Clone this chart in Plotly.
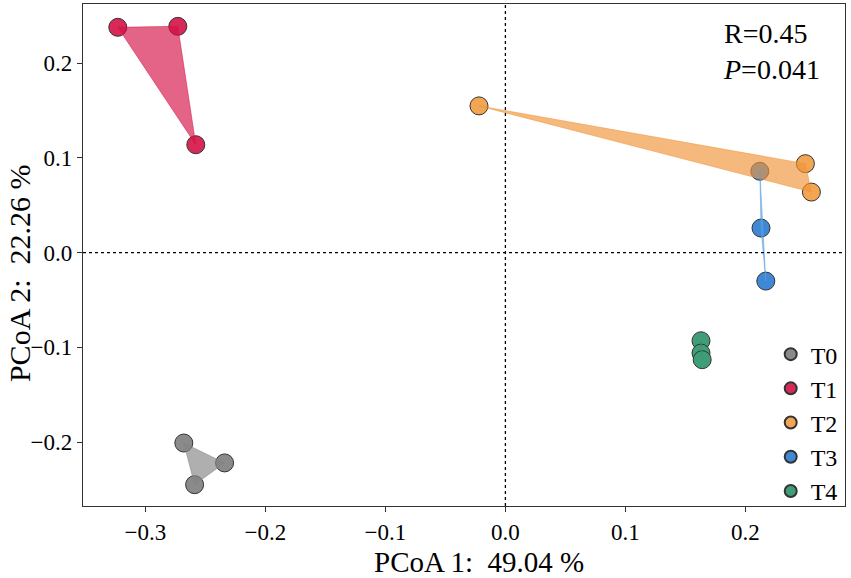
import plotly.graph_objects as go

# PCoA coordinates
groups = ["T0", "T1", "T2", "T3", "T4"]
pc1 = {
    "T0": [-0.268, -0.234, -0.259],
    "T1": [-0.323, -0.273, -0.258],
    "T2": [-0.022, 0.250, 0.255],
    "T3": [0.212, 0.213, 0.217],
    "T4": [0.163, 0.163, 0.164],
}
pc2 = {
    "T0": [-0.201, -0.222, -0.245],
    "T1": [0.238, 0.239, 0.114],
    "T2": [0.155, 0.094, 0.064],
    "T3": [0.086, 0.026, -0.030],
    "T4": [-0.093, -0.106, -0.113],
}
x_ticks = [-0.3, -0.2, -0.1, 0.0, 0.1, 0.2]
x_ticktext = ["\u22120.3", "\u22120.2", "\u22120.1", "0.0", "0.1", "0.2"]
y_ticks = [-0.2, -0.1, 0.0, 0.1, 0.2]
y_ticktext = ["\u22120.2", "\u22120.1", "0.0", "0.1", "0.2"]

marker_colors = {
    "T0": "#8a8a8a",
    "T1": "#d82a58",
    "T2": "#f2a552",
    "T3": "#3f88d6",
    "T4": "#3f9e78",
}
# hulls are drawn semi-transparent on top of the points
hull_colors = {
    "T0": "rgba(132,132,132,0.65)",
    "T1": "rgba(214,17,71,0.65)",
    "T2": "rgba(240,148,55,0.65)",
    "T3": "rgba(90,160,225,0.65)",
    "T4": "rgba(60,150,110,0.65)",
}


def hull(xs, ys):
    # monotone chain convex hull
    pts = sorted(zip(xs, ys))
    if len(pts) < 3:
        return pts

    def cross(o, a, b):
        return (a[0] - o[0]) * (b[1] - o[1]) - (a[1] - o[1]) * (b[0] - o[0])

    lower, upper = [], []
    for p in pts:
        while len(lower) >= 2 and cross(lower[-2], lower[-1], p) <= 0:
            lower.pop()
        lower.append(p)
    for p in reversed(pts):
        while len(upper) >= 2 and cross(upper[-2], upper[-1], p) <= 0:
            upper.pop()
        upper.append(p)
    return lower[:-1] + upper[:-1]


fig = go.Figure()

for g in groups:
    fig.add_trace(go.Scatter(
        x=pc1[g], y=pc2[g], mode="markers", name=g,
        marker=dict(size=18, color=marker_colors[g],
                    line=dict(color="#333333", width=1)),
    ))

for g in groups:
    h = hull(pc1[g], pc2[g])
    hx = [p[0] for p in h] + [h[0][0]]
    hy = [p[1] for p in h] + [h[0][1]]
    fig.add_trace(go.Scatter(
        x=hx, y=hy, mode="lines", fill="toself",
        fillcolor=hull_colors[g],
        line=dict(color=hull_colors[g], width=0.8),
        showlegend=False, hoverinfo="skip",
    ))

# dotted reference lines
fig.add_hline(y=0, line=dict(color="black", width=1.3, dash="dot"))
fig.add_vline(x=0, line=dict(color="black", width=1.3, dash="dot"))

fig.add_annotation(
    x=0.97, y=0.976, xref="paper", yref="paper", xanchor="right", yanchor="top",
    text="R=0.45<br><i>P</i>=0.041", showarrow=False, align="left",
    font=dict(family="Liberation Serif", size=28, color="black"),
)

# axis titles
fig.add_annotation(
    x=0.52, y=-0.112, xref="paper", yref="paper", xanchor="center", yanchor="middle",
    text="PCoA 1:\u00a0 49.04 %", showarrow=False,
    font=dict(family="Liberation Serif", size=29, color="black"),
)
fig.add_annotation(
    x=-0.084, y=0.464, xref="paper", yref="paper", xanchor="center", yanchor="middle",
    text="PCoA 2:\u00a0 22.26 %", showarrow=False, textangle=-90,
    font=dict(family="Liberation Serif", size=30, color="black"),
)

axis_common = dict(
    showgrid=False, zeroline=False, showline=True, linecolor="#333333", linewidth=1.3,
    mirror=True, ticks="outside", ticklen=5, tickcolor="#333333", automargin=False,
    tickfont=dict(family="Liberation Serif", size=23, color="black"),
)

fig.update_layout(
    width=851, height=578,
    margin=dict(l=83, r=6, t=4, b=72),
    plot_bgcolor="white", paper_bgcolor="white",
    font=dict(family="Liberation Serif", color="black"),
    xaxis=dict(range=[-0.352, 0.283], tickvals=x_ticks, ticktext=x_ticktext, **axis_common),
    yaxis=dict(range=[-0.2675, 0.2626], tickvals=y_ticks, ticktext=y_ticktext, **axis_common),
    legend=dict(x=0.997, y=-0.014, xanchor="right", yanchor="bottom",
                bgcolor="rgba(0,0,0,0)", font=dict(size=24),
                itemsizing="constant", tracegroupgap=0),
)

# the page body has a default 8px margin; drop it so the figure fills the window
fig.write_html("out.html", config={"displayModeBar": False},
               post_script="document.body.style.margin='0';")
